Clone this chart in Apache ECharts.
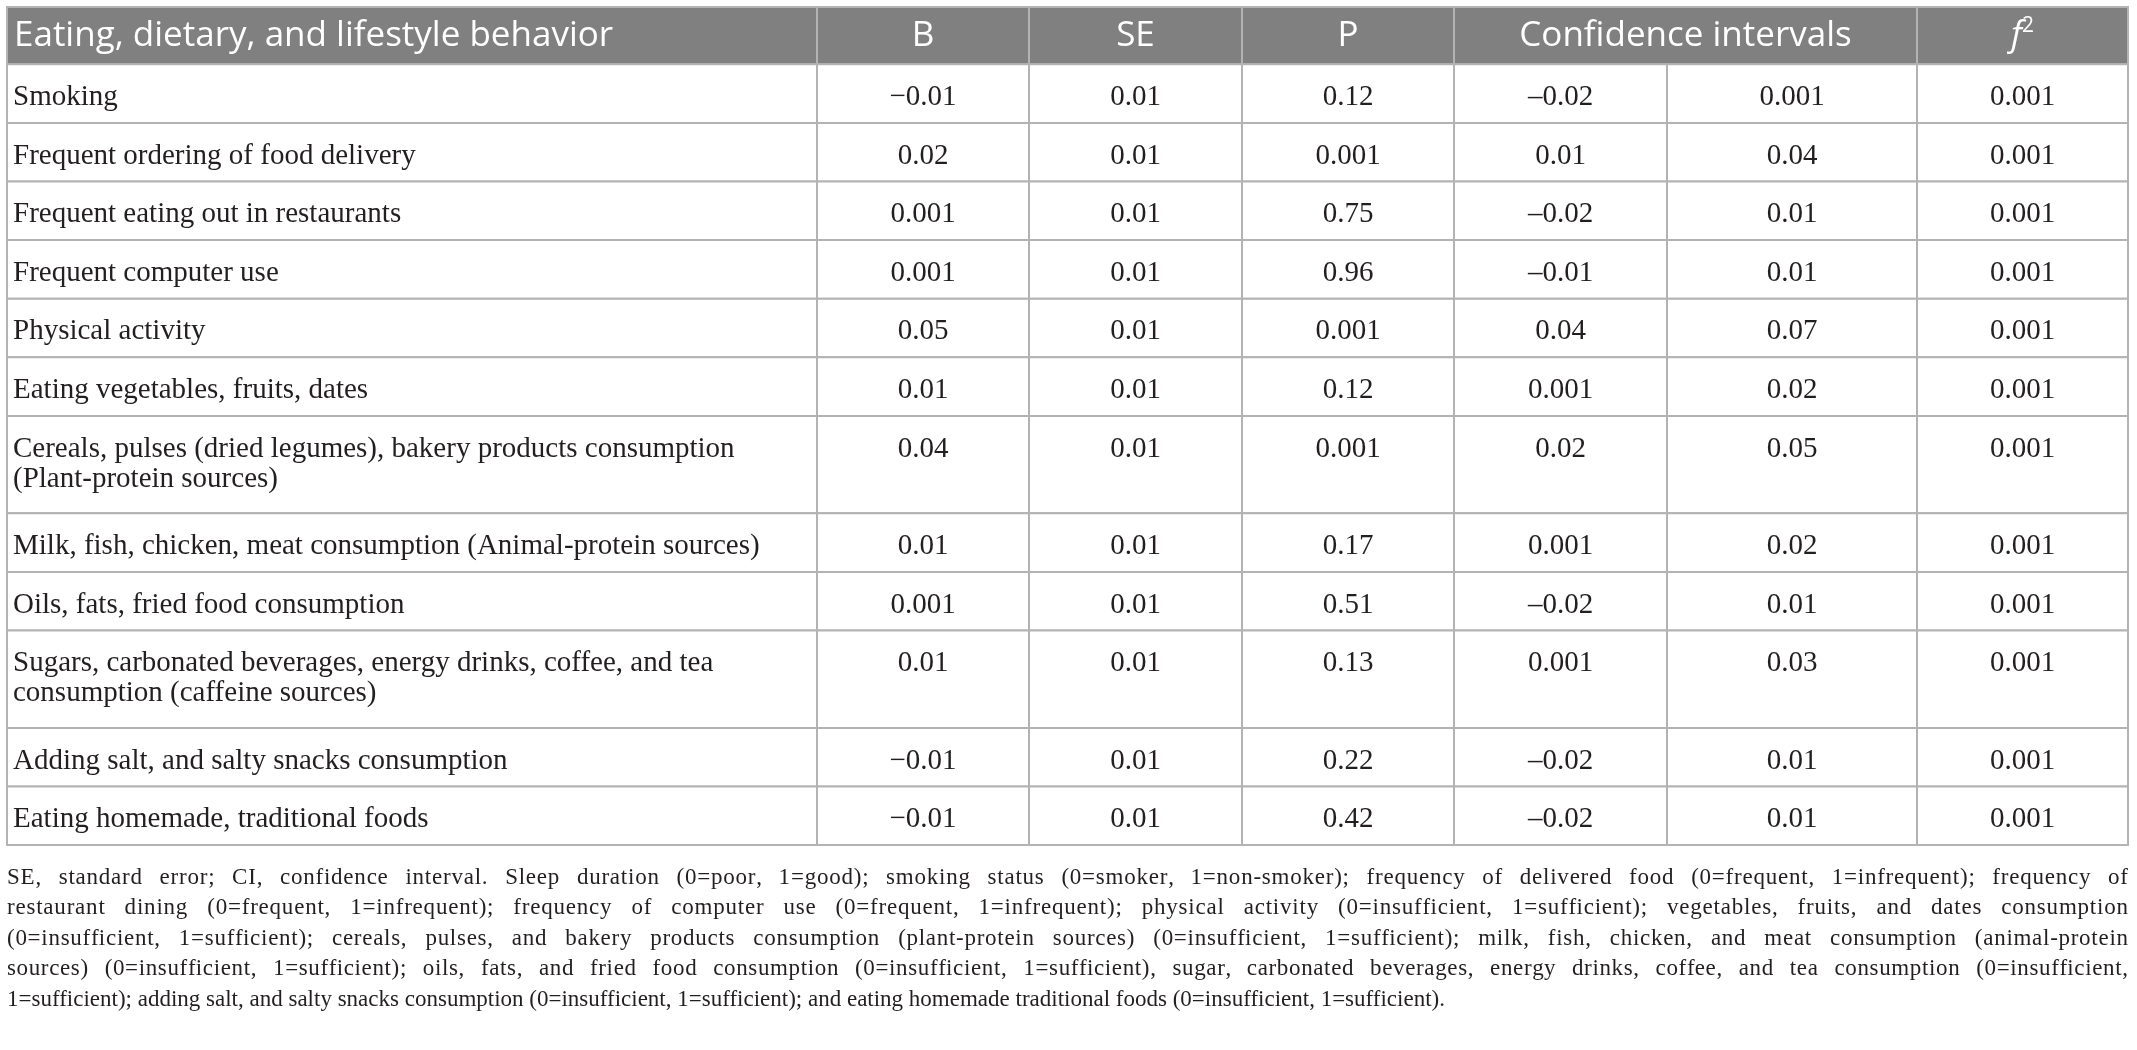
<!DOCTYPE html>
<html>
<head>
<meta charset="utf-8">
<title>Eating, dietary, and lifestyle behavior</title>
<script src="https://cdn.jsdelivr.net/npm/echarts@6/dist/echarts.min.js"></script>
<style>
html, body { margin: 0; padding: 0; background: #fff; }
#table-chart { width: 2137px; height: 1050px; }
</style>
</head>
<body>
<div id="table-chart"></div>
<script>
var headers = ['Eating, dietary, and lifestyle behavior', 'B', 'SE', 'P', 'Confidence intervals', 'f2'];
var behaviors = [
    'Smoking',
    'Frequent ordering of food delivery',
    'Frequent eating out in restaurants',
    'Frequent computer use',
    'Physical activity',
    'Eating vegetables, fruits, dates',
    'Cereals, pulses (dried legumes), bakery products consumption\n(Plant-protein sources)',
    'Milk, fish, chicken, meat consumption (Animal-protein sources)',
    'Oils, fats, fried food consumption',
    'Sugars, carbonated beverages, energy drinks, coffee, and tea\nconsumption (caffeine sources)',
    'Adding salt, and salty snacks consumption',
    'Eating homemade, traditional foods'
];
var bValues = [-0.01, 0.02, 0.001, 0.001, 0.05, 0.01, 0.04, 0.01, 0.001, 0.01, -0.01, -0.01];
var seValues = [0.01, 0.01, 0.01, 0.01, 0.01, 0.01, 0.01, 0.01, 0.01, 0.01, 0.01, 0.01];
var pValues = [0.12, 0.001, 0.75, 0.96, 0.001, 0.12, 0.001, 0.17, 0.51, 0.13, 0.22, 0.42];
var ciLower = [-0.02, 0.01, -0.02, -0.01, 0.04, 0.001, 0.02, 0.001, -0.02, 0.001, -0.02, -0.02];
var ciUpper = [0.001, 0.04, 0.01, 0.01, 0.07, 0.02, 0.05, 0.02, 0.01, 0.03, 0.01, 0.01];
var f2Values = [0.001, 0.001, 0.001, 0.001, 0.001, 0.001, 0.001, 0.001, 0.001, 0.001, 0.001, 0.001];
var footnoteLines = [
    'SE, standard error; CI, confidence interval. Sleep duration (0=poor, 1=good); smoking status (0=smoker, 1=non-smoker); frequency of delivered food (0=frequent, 1=infrequent); frequency of',
    'restaurant dining (0=frequent, 1=infrequent); frequency of computer use (0=frequent, 1=infrequent); physical activity (0=insufficient, 1=sufficient); vegetables, fruits, and dates consumption',
    '(0=insufficient, 1=sufficient); cereals, pulses, and bakery products consumption (plant-protein sources) (0=insufficient, 1=sufficient); milk, fish, chicken, and meat consumption (animal-protein',
    'sources) (0=insufficient, 1=sufficient); oils, fats, and fried food consumption (0=insufficient, 1=sufficient), sugar, carbonated beverages, energy drinks, coffee, and tea consumption (0=insufficient,',
    '1=sufficient); adding salt, and salty snacks consumption (0=insufficient, 1=sufficient); and eating homemade traditional foods (0=insufficient, 1=sufficient).'
];

// layout (table units = px)
var colWidths = [810, 212, 213, 212, 213, 250, 211];
var headerHeight = 57.3;
var oneLineRow = 58.6;
var extraLine = 38.8;
var headFont = 'Open Sans';
var bodyFont = 'Liberation Serif';

function fmt(v, minus) {
    return v < 0 ? minus + String(-v) : String(v);
}

var colEdges = [0];
colWidths.forEach(function (w) { colEdges.push(colEdges[colEdges.length - 1] + w); });
var rowEdges = [0, headerHeight];
behaviors.forEach(function (b) {
    var lines = b.split('\n').length;
    rowEdges.push(rowEdges[rowEdges.length - 1] + oneLineRow + (lines - 1) * extraLine);
});
var tableWidth = colEdges[colEdges.length - 1];
var tableHeight = rowEdges[rowEdges.length - 1];

// cells: [x0, y0, x1, y1] in table units, text kept alongside
var cells = [];
var headSpans = [[0, 1], [1, 2], [2, 3], [3, 4], [4, 6], [6, 7]];
headers.forEach(function (h, i) {
    cells.push({ value: [colEdges[headSpans[i][0]], 0, colEdges[headSpans[i][1]], headerHeight], text: h, head: true, left: i === 0 });
});
behaviors.forEach(function (b, r) {
    var rowTexts = [b, fmt(bValues[r], '\u2212'), fmt(seValues[r], '\u2212'), fmt(pValues[r], '\u2212'),
        fmt(ciLower[r], '\u2013'), fmt(ciUpper[r], '\u2013'), fmt(f2Values[r], '\u2212')];
    rowTexts.forEach(function (t, c) {
        cells.push({ value: [colEdges[c], rowEdges[r + 1], colEdges[c + 1], rowEdges[r + 2]], text: t, head: false, left: c === 0 });
    });
});

function renderCell(params, api) {
    var cell = cells[params.dataIndex];
    var p0 = api.coord([api.value(0), api.value(1)]);
    var p1 = api.coord([api.value(2), api.value(3)]);
    var rect = {
        type: 'rect',
        shape: { x: p0[0], y: p0[1], width: p1[0] - p0[0], height: p1[1] - p0[1] },
        style: { fill: cell.head ? '#808080' : '#ffffff', stroke: '#b3b3b3', lineWidth: 2 }
    };
    var label;
    if (cell.head) {
        var tx = cell.left ? p0[0] + 7 : (p0[0] + p1[0]) / 2;
        if (cell.text === 'f2') {
            label = {
                type: 'text',
                style: {
                    text: '{i|f}{s|2}', x: tx, y: (p0[1] + p1[1]) / 2,
                    align: 'center', verticalAlign: 'middle',
                    rich: {
                        i: { fontFamily: headFont, fontStyle: 'italic', fontSize: 35, lineHeight: 40, fill: '#ffffff' },
                        s: { fontFamily: headFont, fontSize: 21, lineHeight: 30, verticalAlign: 'top', fill: '#ffffff' }
                    }
                }
            };
        } else {
            label = {
                type: 'text',
                style: {
                    text: cell.text, x: tx, y: (p0[1] + p1[1]) / 2,
                    fontFamily: headFont, fontSize: 35, fill: '#ffffff',
                    align: cell.left ? 'left' : 'center', verticalAlign: 'middle'
                }
            };
        }
    } else {
        label = {
            type: 'text',
            style: {
                text: cell.text, x: cell.left ? p0[0] + 6 : (p0[0] + p1[0]) / 2, y: p0[1] + 18,
                fontFamily: bodyFont, fontSize: 29, lineHeight: 30, fill: '#231f20',
                align: cell.left ? 'left' : 'center', verticalAlign: 'top'
            }
        };
    }
    return { type: 'group', children: [rect, label] };
}

// justified footnote: extra room shared between word gaps and letter tracking
var footSize = 23;
var ctx = document.createElement('canvas').getContext('2d');
ctx.font = footSize + 'px "' + bodyFont + '"';
var footnote = [];
var footLeft = 7, footWidth = 2121, footTop = 878, footStep = 30.4;
footnoteLines.forEach(function (line, li) {
    var last = li === footnoteLines.length - 1;
    var y = footTop + li * footStep;
    if (last) {
        footnote.push({
            type: 'text', x: footLeft, y: y,
            style: { text: line, fontFamily: bodyFont, fontSize: footSize, fill: '#231f20', align: 'left', verticalAlign: 'middle' }
        });
        return;
    }
    var natural = ctx.measureText(line).width;
    var extra = footWidth - natural;
    var spaces = line.split(' ').length - 1;
    var letterExtra = extra * 0.4 / (line.length - 1);
    var wordExtra = extra * 0.6 / spaces;
    var seen = 0;
    for (var i = 0; i < line.length; i++) {
        var ch = line.charAt(i);
        if (ch === ' ') { seen++; continue; }
        var x = footLeft + ctx.measureText(line.slice(0, i)).width + i * letterExtra + seen * wordExtra;
        footnote.push({
            type: 'text', x: x, y: y,
            style: { text: ch, fontFamily: bodyFont, fontSize: footSize, fill: '#231f20', align: 'left', verticalAlign: 'middle' }
        });
    }
});

var chart = echarts.init(document.getElementById('table-chart'));
chart.setOption({
    animation: false,
    grid: { left: 7, top: 7, width: tableWidth, height: tableHeight },
    xAxis: { type: 'value', min: 0, max: tableWidth, show: false },
    yAxis: { type: 'value', min: 0, max: tableHeight, inverse: true, show: false },
    series: [{
        type: 'custom',
        renderItem: renderCell,
        data: cells,
        silent: true,
        clip: false
    }],
    graphic: footnote
});
</script>
</body>
</html>
